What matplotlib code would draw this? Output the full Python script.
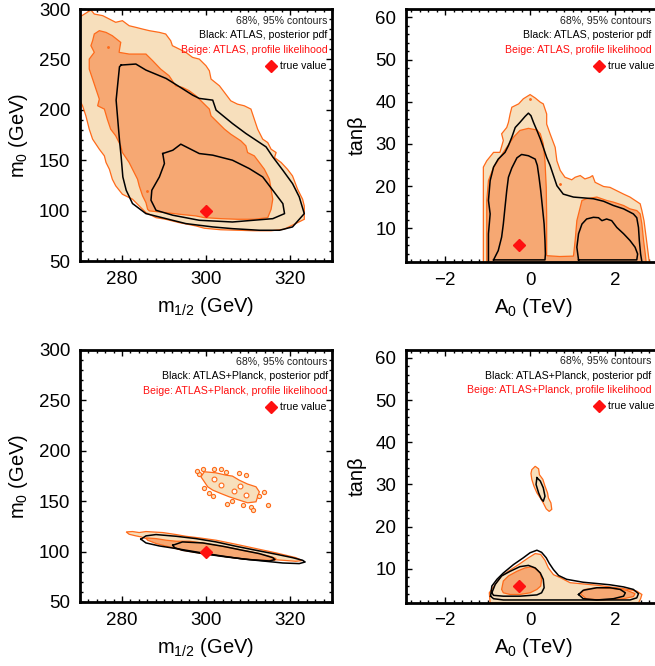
import matplotlib
matplotlib.use("Agg")
import matplotlib.pyplot as plt
from matplotlib.ticker import MultipleLocator

plt.rcParams['font.family'] = ['Liberation Sans', 'DejaVu Sans']
plt.rcParams['mathtext.fontset'] = 'custom'
plt.rcParams['mathtext.rm'] = 'Liberation Sans'
plt.rcParams['mathtext.it'] = 'Liberation Sans:italic'

# ---------------- data: contour boundaries ----------------
# Top-left: m1/2 vs m0, ATLAS only
TL_PL95_X = [269.0, 269.8, 272.6, 273.4, 275.4, 277.0, 278.5, 280.1, 281.7, 283.3, 284.9, 286.5, 288.9, 290.4, 291.6,
             292.0, 293.6, 295.2, 296.8, 298.4, 300.0, 300.8, 301.2, 303.2, 304.4, 305.9, 307.5, 309.1, 310.7, 311.5,
             312.3, 313.5, 314.7, 315.5, 316.7, 316.3, 317.9, 319.4, 320.6, 321.8, 323.0, 323.4, 323.4, 322.6, 320.2,
             318.6, 315.5, 311.5, 307.5, 303.5, 299.6, 297.6, 293.6, 290.4, 288.1, 285.7, 284.1, 282.5, 280.1, 278.5,
             277.7, 277.0, 276.2, 275.8, 274.6, 273.0, 272.2, 271.4, 270.6, 269.8, 269.0]
TL_PL95_Y = [291.7, 291.7, 299.0, 295.0, 293.4, 290.0, 286.8, 288.4, 283.4, 281.8, 280.1, 278.5, 276.8, 275.2, 268.5,
             263.6, 260.3, 257.0, 252.0, 250.3, 243.7, 238.7, 230.5, 223.8, 217.2, 208.9, 205.6, 204.0, 200.7, 190.7,
             180.8, 170.9, 167.5, 160.9, 157.6, 152.6, 147.7, 141.0, 134.4, 121.2, 111.3, 104.6, 91.4, 89.7, 84.8,
             81.5, 80.0, 80.0, 80.5, 81.0, 82.5, 84.8, 88.1, 91.4, 93.0, 98.0, 104.6, 111.3, 116.2, 124.6,
             131.1, 141.0, 147.7, 154.3, 160.9, 170.9, 180.8, 194.0, 204.0, 210.6, 210.6]
TL_PL68_X = [273.4, 274.6, 276.2, 277.7, 279.7, 279.3, 281.7, 285.7, 287.3, 289.2, 291.2, 292.8, 294.4, 296.0, 297.6,
             299.2, 300.8, 301.2, 302.8, 304.4, 305.9, 308.3, 309.5, 309.9, 311.5, 312.7, 313.9, 315.1, 315.5, 315.9,
             315.5, 314.7, 311.5, 307.5, 303.6, 299.6, 297.6, 293.6, 290.4, 286.5, 286.1, 285.7, 284.9, 284.1, 283.7,
             282.5, 281.7, 280.1, 279.7, 278.5, 277.3, 276.5, 275.8, 274.2, 274.6, 273.8, 273.0, 272.2, 272.2, 273.4,
             272.6, 273.0]
TL_PL68_Y = [275.2, 278.5, 276.8, 273.5, 266.9, 257.0, 255.3, 255.3, 248.7, 240.4, 233.8, 223.8, 222.2, 218.9, 213.9,
             207.3, 200.7, 194.0, 187.4, 180.8, 175.8, 169.2, 164.2, 157.6, 154.3, 147.7, 141.0, 131.1, 121.2, 111.3,
             101.3, 93.0, 91.4, 91.4, 92.0, 93.0, 94.7, 96.4, 98.0, 99.7, 101.3, 107.9, 114.6, 124.5, 131.1,
             141.0, 147.7, 157.6, 164.2, 174.2, 180.8, 190.7, 200.7, 204.0, 210.6, 220.5, 230.5, 240.4, 250.3, 257.0,
             263.6, 268.5]
TL_PO95_X = [279.8, 283.3, 285.7, 290.5, 293.7, 296.8, 298.4, 301.6, 302.4, 306.3, 309.5, 314.3, 315.9, 318.3, 320.6,
             322.2, 323.4, 320.6, 317.5, 312.7, 306.3, 301.6, 295.2, 290.5, 285.7, 282.5, 281.0, 280.2, 279.8, 279.4,
             279.0, 278.6, 279.0, 279.4]
TL_PO95_Y = [244.4, 245.4, 239.4, 231.1, 222.8, 214.6, 211.3, 209.6, 199.7, 186.4, 176.5, 163.2, 153.3, 140.0, 126.8,
             113.6, 97.0, 83.8, 80.5, 80.5, 82.1, 83.8, 87.1, 92.0, 97.0, 107.0, 120.2, 133.4, 153.3, 169.9,
             189.7, 209.6, 226.2, 242.7]
TL_PO68_X = [289.7, 292.1, 294.0, 298.4, 301.6, 306.3, 310.3, 313.5, 315.9, 318.3, 318.7, 315.9, 306.3, 298.4, 292.1,
             288.1, 286.9, 287.1, 288.9, 290.1]
TL_PO68_Y = [156.6, 159.9, 165.9, 156.6, 155.0, 150.0, 141.7, 133.4, 120.2, 106.9, 97.0, 92.0, 88.7, 90.4, 95.4,
             100.3, 110.3, 120.2, 133.4, 146.7]
TL_DOT_X = [276.6, 286.0]
TL_DOT_Y = [262.6, 119.0]

# Top-right: A0 vs tan(beta), ATLAS only
TR_PL95_X = [-1.10, -1.10, -1.02, -0.86, -0.71, -0.63, -0.67, -0.55, -0.51, -0.47, -0.43, -0.27, -0.16, 0.00, 0.12,
             0.24, 0.31, 0.39, 0.39, 0.47, 0.59, 0.63, 0.71, 0.82, 0.98, 1.06, 1.18, 1.29, 1.41, 1.47,
             1.53, 1.73, 1.88, 2.04, 2.20, 2.35, 2.59, 2.63, 2.68, 2.73, 2.78, 2.82]
TR_PL95_Y = [0.8, 24.5, 26.0, 28.0, 28.0, 30.8, 32.4, 33.9, 35.1, 37.1, 38.7, 39.5, 40.7, 41.7, 40.9,
             39.9, 39.5, 37.1, 34.7, 32.4, 29.2, 26.0, 23.7, 22.1, 21.5, 22.1, 22.5, 21.7, 22.1, 22.5,
             20.9, 19.9, 19.7, 18.9, 18.1, 17.4, 15.8, 14.2, 11.8, 7.9, 3.9, 0.8]
TR_PL68_X = [-1.02, -1.02, -0.98, -0.86, -0.71, -0.55, -0.39, -0.24, -0.04, 0.16, 0.24, 0.31, 0.35, 0.38, 0.39,
             0.39, 0.70, 1.02, 1.06, 1.10, 1.18, 1.22, 1.33, 1.57, 1.80, 1.96, 2.20, 2.35, 2.51, 2.59,
             2.63, 2.67, 2.71, 2.73, 2.73]
TR_PL68_Y = [0.8, 16.6, 21.3, 24.5, 26.8, 29.2, 31.6, 33.2, 33.7, 33.3, 32.4, 30.0, 26.0, 19.7, 12.6,
             3.5, 3.3, 3.4, 7.1, 11.8, 15.0, 16.6, 17.0, 17.4, 16.6, 16.2, 15.4, 14.6, 14.2, 13.4,
             11.0, 7.1, 3.9, 2.0, 0.8]
TR_PO95_X = [-0.98, -0.98, -0.94, -0.98, -0.94, -0.86, -0.75, -0.59, -0.51, -0.43, -0.35, -0.24, -0.12, -0.04, 0.02,
             0.08, 0.16, 0.24, 0.31, 0.39, 0.47, 0.55, 0.63, 0.78, 1.02, 1.26, 1.49, 1.73, 1.96, 2.20,
             2.43, 2.51, 2.55, 2.57, 2.60, 2.65]
TR_PO95_Y = [0.8, 8.7, 13.4, 16.6, 21.3, 24.5, 26.4, 28.0, 29.6, 31.6, 33.9, 35.1, 36.5, 37.3, 36.7,
             35.1, 33.2, 31.2, 29.2, 26.8, 24.9, 22.5, 20.1, 18.1, 17.4, 17.2, 17.0, 16.4, 15.4, 14.6,
             13.4, 12.5, 10.2, 7.1, 3.9, 0.8]
TR_PO68A_X = [-0.86, -0.75, -0.67, -0.63, -0.59, -0.55, -0.51, -0.43, -0.31, -0.20, -0.04, 0.12, 0.17, 0.21, 0.25,
              0.29, 0.33, 0.35, 0.36, 0.35]
TR_PO68A_Y = [2.5, 4.7, 7.9, 11.0, 15.0, 18.9, 22.1, 24.3, 26.7, 27.5, 27.2, 26.4, 24.9, 22.1, 18.9,
              15.0, 11.0, 7.1, 3.9, 2.5]
TR_PO68B_X = [1.14, 1.10, 1.14, 1.22, 1.33, 1.49, 1.61, 1.69, 1.80, 1.92, 2.04, 2.20, 2.35, 2.47, 2.53, 2.51]
TR_PO68B_Y = [2.5, 5.5, 8.7, 11.0, 12.2, 12.6, 12.5, 11.8, 12.2, 11.8, 10.2, 8.7, 7.1, 5.5, 3.9, 2.5]
TR_DOT_X = [0.00, 0.70]
TR_DOT_Y = [40.6, 20.6]

# Bottom-left: m1/2 vs m0, ATLAS+Planck
BL_PL95_X = [281.0, 281.7, 283.3, 284.5, 285.7, 287.3, 288.9, 291.3, 294.4, 299.2, 304.0, 308.7, 313.5, 318.3, 321.4,
             322.9, 321.4, 316.7, 311.9, 307.1, 302.4, 298.4, 295.2, 292.9, 291.3, 289.7, 287.3, 285.7, 284.1, 282.5]
BL_PL95_Y = [119.5, 117.2, 115.6, 114.6, 112.9, 111.3, 108.6, 106.3, 103.0, 99.7, 97.4, 94.7, 92.7, 91.4, 90.4,
             91.1, 94.0, 98.7, 103.0, 107.3, 111.3, 113.6, 115.2, 116.9, 117.9, 118.9, 119.5, 119.9, 118.9, 119.9]
BL_PL68_X = [285.7, 288.1, 290.5, 292.9, 296.0, 299.2, 302.4, 305.6, 308.7, 311.9, 315.1, 316.7, 316.3, 313.5, 308.7,
             304.0, 299.2, 294.4, 291.3, 288.1, 286.1]
BL_PL68_Y = [113.6, 112.9, 111.3, 110.3, 110.3, 108.6, 106.3, 104.0, 101.3, 98.7, 95.4, 93.1, 91.4, 91.4, 92.7,
             95.4, 98.0, 101.3, 104.6, 108.0, 111.3]
BL_PO95_X = [284.5, 285.7, 288.1, 292.9, 297.6, 302.4, 307.1, 311.9, 316.7, 320.6, 323.0, 323.6, 322.2, 318.3, 313.5,
             308.7, 303.2, 297.6, 292.9, 288.9, 285.7]
BL_PO95_Y = [112.3, 115.6, 116.9, 115.2, 112.9, 109.6, 105.3, 101.3, 97.4, 94.0, 91.4, 89.7, 88.1, 88.7, 90.7,
             92.7, 96.0, 99.7, 103.0, 105.6, 108.6]
BL_PO68_X = [292.1, 294.4, 299.2, 304.0, 308.7, 312.7, 315.9, 316.4, 315.1, 310.3, 304.8, 299.2, 294.4, 292.5]
BL_PO68_Y = [106.3, 109.6, 108.6, 105.3, 101.3, 98.0, 94.0, 92.1, 90.7, 92.1, 94.7, 98.0, 101.3, 103.9]
BL_CLOUD_X = [299.6, 302.3, 304.7, 306.3, 307.9, 309.9, 311.9, 312.7, 312.3, 311.9, 309.9, 307.9, 305.5, 303.5, 301.6,
              300.4, 299.6, 298.8]
BL_CLOUD_Y = [179.2, 178.2, 175.9, 174.9, 170.9, 167.0, 164.3, 159.3, 154.4, 149.4, 148.4, 151.1, 154.4, 157.7, 161.0,
              164.3, 169.3, 174.2]
BL_HOLE_X = [303.6, 306.6, 309.6, 302.0, 308.0]
BL_HOLE_Y = [166.0, 160.5, 156.0, 172.0, 165.5]
BL_ISLAND_X = [299.2, 302.0, 304.7, 307.9, 299.6, 303.5, 306.3, 308.7, 310.7, 312.7, 314.7, 305.1, 301.6, 298.4,
               300.6, 313.9, 311.3, 297.9, 309.6]
BL_ISLAND_Y = [181.5, 181.5, 178.6, 177.6, 163.0, 182.0, 150.0, 146.1, 144.4, 155.4, 146.1, 147.7, 155.4, 176.6,
               158.0, 159.0, 141.0, 179.5, 176.0]

# Bottom-right: A0 vs tan(beta), ATLAS+Planck
BR_PL95_X = [-0.94, -0.96, -0.82, -0.67, -0.47, -0.24, -0.04, 0.12, 0.25, 0.35, 0.43, 0.55, 0.71, 0.94, 1.25,
             1.57, 1.88, 2.20, 2.51, 2.63, 2.60, 2.55]
BR_PL95_Y = [1.9, 4.3, 6.3, 8.3, 9.7, 11.2, 12.6, 13.6, 13.4, 12.0, 10.2, 8.6, 7.9, 6.7, 6.4,
             6.1, 5.7, 5.3, 4.7, 3.9, 2.9, 1.9]
BR_PL68A_X = [-0.67, -0.63, -0.51, -0.31, -0.12, 0.04, 0.16, 0.24, 0.27, 0.25, 0.16, 0.00, -0.24, -0.47, -0.63]
BR_PL68A_Y = [5.1, 7.1, 8.3, 9.4, 10.2, 10.5, 9.8, 9.0, 7.5, 5.9, 5.1, 4.3, 3.9, 3.9, 4.3]
BR_PL68B_X = [1.18, 1.29, 1.57, 1.96, 2.27, 2.47, 2.43, 2.20, 1.73, 1.33]
BR_PL68B_Y = [4.1, 5.1, 5.5, 5.3, 4.9, 4.1, 3.4, 2.9, 2.6, 2.8]
BR_PL95C_X = [0.04, 0.12, 0.20, 0.22, 0.30, 0.35, 0.41, 0.43, 0.49, 0.51, 0.45, 0.38, 0.31, 0.24, 0.16, 0.09, 0.04, 0.02]
BR_PL95C_Y = [33.5, 34.3, 33.7, 32.3, 31.2, 29.6, 28.0, 26.8, 25.6, 24.1, 23.6, 24.2, 25.6, 26.8, 28.0, 29.6, 31.2, 32.6]
BR_PO95_X = [-0.93, -0.90, -0.78, -0.63, -0.39, -0.16, 0.00, 0.16, 0.27, 0.38, 0.45, 0.55, 0.67, 0.86, 1.25,
             1.57, 1.88, 2.20, 2.43, 2.55, 2.51, 2.35, -0.63, -0.86]
BR_PO95_Y = [3.5, 5.9, 7.5, 9.0, 11.0, 12.6, 13.8, 14.4, 13.9, 12.6, 11.3, 9.8, 8.4, 7.5, 6.8,
             6.5, 6.2, 5.7, 5.1, 4.1, 3.1, 2.6, 2.6, 2.9]
BR_PO68A_X = [-0.90, -0.82, -0.67, -0.47, -0.24, -0.04, 0.12, 0.24, 0.31, 0.33, 0.27, 0.16, -0.24, -0.63, -0.86]
BR_PO68A_Y = [4.3, 6.3, 8.3, 9.4, 10.5, 10.8, 10.2, 9.0, 7.5, 5.5, 4.3, 3.8, 3.5, 3.5, 3.7]
BR_PO68B_X = [1.14, 1.25, 1.57, 1.88, 2.12, 2.24, 2.20, 1.96, 1.57, 1.25]
BR_PO68B_Y = [3.9, 4.9, 5.5, 5.5, 5.1, 4.3, 3.5, 2.9, 2.6, 2.9]
BR_PO68C_X = [0.16, 0.24, 0.31, 0.35, 0.31, 0.26, 0.20, 0.14]
BR_PO68C_Y = [31.6, 30.8, 29.2, 27.2, 26.0, 26.6, 28.0, 30.0]

TRUE_M12, TRUE_M0 = 300.0, 100.0
TRUE_A0, TRUE_TANB = -0.25, 6.0

LEGEND_TOP = ["68%, 95% contours", "Black: ATLAS, posterior pdf", "Beige: ATLAS, profile likelihood"]
LEGEND_BOT = ["68%, 95% contours", "Black: ATLAS+Planck, posterior pdf", "Beige: ATLAS+Planck, profile likelihood"]
TRUE_LABEL = "true value"

# ---------------- style ----------------
C_LIGHT = '#F7DFBC'
C_DARK = '#F6A873'
C_EDGE = '#FF6A1A'
C_RED = '#FF1010'

fig = plt.figure(figsize=(6.55, 6.66), dpi=100)
W, H = 655.0, 666.0
ax_tl = fig.add_axes([80 / W, 1 - 261 / H, 252 / W, 252 / H])
ax_tr = fig.add_axes([406 / W, 1 - 262 / H, 255 / W, 253 / H])
ax_bl = fig.add_axes([80 / W, 1 - 602 / H, 252 / W, 252 / H])
ax_br = fig.add_axes([406 / W, 1 - 602.5 / H, 255 / W, 253 / H])


def fill(ax, xs, ys, color):
    ax.fill(xs, ys, facecolor=color, edgecolor=C_EDGE, linewidth=0.9, zorder=2)


def line(ax, xs, ys):
    ax.plot(list(xs) + [xs[0]], list(ys) + [ys[0]], color='black', lw=1.1, zorder=3)


def dots(ax, xs, ys, face, size):
    ax.scatter(xs, ys, s=size, facecolor=face, edgecolor=C_EDGE, linewidth=0.8, zorder=2.5)


def style(ax, xlim, ylim, xmaj, xmin, ymaj, ymin, xlabel, ylabel, legend, legx):
    ax.set_xlim(*xlim)
    ax.set_ylim(*ylim)
    ax.xaxis.set_major_locator(MultipleLocator(xmaj))
    ax.xaxis.set_minor_locator(MultipleLocator(xmin))
    ax.yaxis.set_major_locator(MultipleLocator(ymaj))
    ax.yaxis.set_minor_locator(MultipleLocator(ymin))
    ax.tick_params(which='both', direction='in', top=True, right=True, width=1.0)
    ax.tick_params(which='major', length=4.5, labelsize=13.5, pad=7)
    ax.tick_params(which='minor', length=2.2)
    for s in ax.spines.values():
        s.set_linewidth(2.0)
    ax.set_xlabel(xlabel, fontsize=14.5, labelpad=5)
    ax.set_ylabel(ylabel, fontsize=14.5, labelpad=6)
    ys = [0.955, 0.897, 0.838]
    cols = ['#202020', 'black', C_RED]
    for t, yy, c in zip(legend, ys, cols):
        ax.text(legx, yy, t, transform=ax.transAxes, ha='right', va='center', fontsize=7.6, color=c, zorder=5)
    ax.plot([0.757], [0.775], marker='D', ms=6.5, color=C_RED, transform=ax.transAxes, zorder=5, clip_on=False)
    ax.text(0.794, 0.775, TRUE_LABEL, transform=ax.transAxes, ha='left', va='center', fontsize=7.6,
            color='black', zorder=5)


# Top-left
fill(ax_tl, TL_PL95_X, TL_PL95_Y, C_LIGHT)
fill(ax_tl, TL_PL68_X, TL_PL68_Y, C_DARK)
dots(ax_tl, TL_DOT_X, TL_DOT_Y, C_EDGE, 1.5)
line(ax_tl, TL_PO95_X, TL_PO95_Y)
line(ax_tl, TL_PO68_X, TL_PO68_Y)
ax_tl.plot([TRUE_M12], [TRUE_M0], marker='D', ms=6.5, color=C_RED, zorder=4)
style(ax_tl, (270, 330), (50, 300), 20, 2, 50, 10, r'm$_{1/2}$ (GeV)', r'm$_0$ (GeV)', LEGEND_TOP, 0.983)

# Top-right
fill(ax_tr, TR_PL95_X, TR_PL95_Y, C_LIGHT)
fill(ax_tr, TR_PL68_X, TR_PL68_Y, C_DARK)
dots(ax_tr, TR_DOT_X, TR_DOT_Y, C_EDGE, 1.5)
line(ax_tr, TR_PO95_X, TR_PO95_Y)
line(ax_tr, TR_PO68A_X, TR_PO68A_Y)
line(ax_tr, TR_PO68B_X, TR_PO68B_Y)
ax_tr.plot([TRUE_A0], [TRUE_TANB], marker='D', ms=6.5, color=C_RED, zorder=4)
style(ax_tr, (-2.92, 3.08), (2, 62), 2, 0.2, 10, 2, r'A$_0$ (TeV)', 'tanβ', LEGEND_TOP, 0.963)

# Bottom-left
fill(ax_bl, BL_PL95_X, BL_PL95_Y, C_LIGHT)
fill(ax_bl, BL_PL68_X, BL_PL68_Y, C_DARK)
fill(ax_bl, BL_CLOUD_X, BL_CLOUD_Y, C_LIGHT)
dots(ax_bl, BL_HOLE_X, BL_HOLE_Y, 'white', 12)
dots(ax_bl, BL_ISLAND_X, BL_ISLAND_Y, C_LIGHT, 9)
line(ax_bl, BL_PO95_X, BL_PO95_Y)
line(ax_bl, BL_PO68_X, BL_PO68_Y)
ax_bl.plot([TRUE_M12], [TRUE_M0], marker='D', ms=6.5, color=C_RED, zorder=4)
style(ax_bl, (270, 330), (50, 300), 20, 2, 50, 10, r'm$_{1/2}$ (GeV)', r'm$_0$ (GeV)', LEGEND_BOT, 0.983)

# Bottom-right
fill(ax_br, BR_PL95_X, BR_PL95_Y, C_LIGHT)
fill(ax_br, BR_PL95C_X, BR_PL95C_Y, C_LIGHT)
fill(ax_br, BR_PL68A_X, BR_PL68A_Y, C_DARK)
fill(ax_br, BR_PL68B_X, BR_PL68B_Y, C_DARK)
line(ax_br, BR_PO95_X, BR_PO95_Y)
line(ax_br, BR_PO68A_X, BR_PO68A_Y)
line(ax_br, BR_PO68B_X, BR_PO68B_Y)
line(ax_br, BR_PO68C_X, BR_PO68C_Y)
ax_br.plot([TRUE_A0], [TRUE_TANB], marker='D', ms=6.5, color=C_RED, zorder=4)
style(ax_br, (-2.92, 3.08), (2, 62), 2, 0.2, 10, 2, r'A$_0$ (TeV)', 'tanβ', LEGEND_BOT, 0.963)

fig.savefig('out.png', dpi=100)
